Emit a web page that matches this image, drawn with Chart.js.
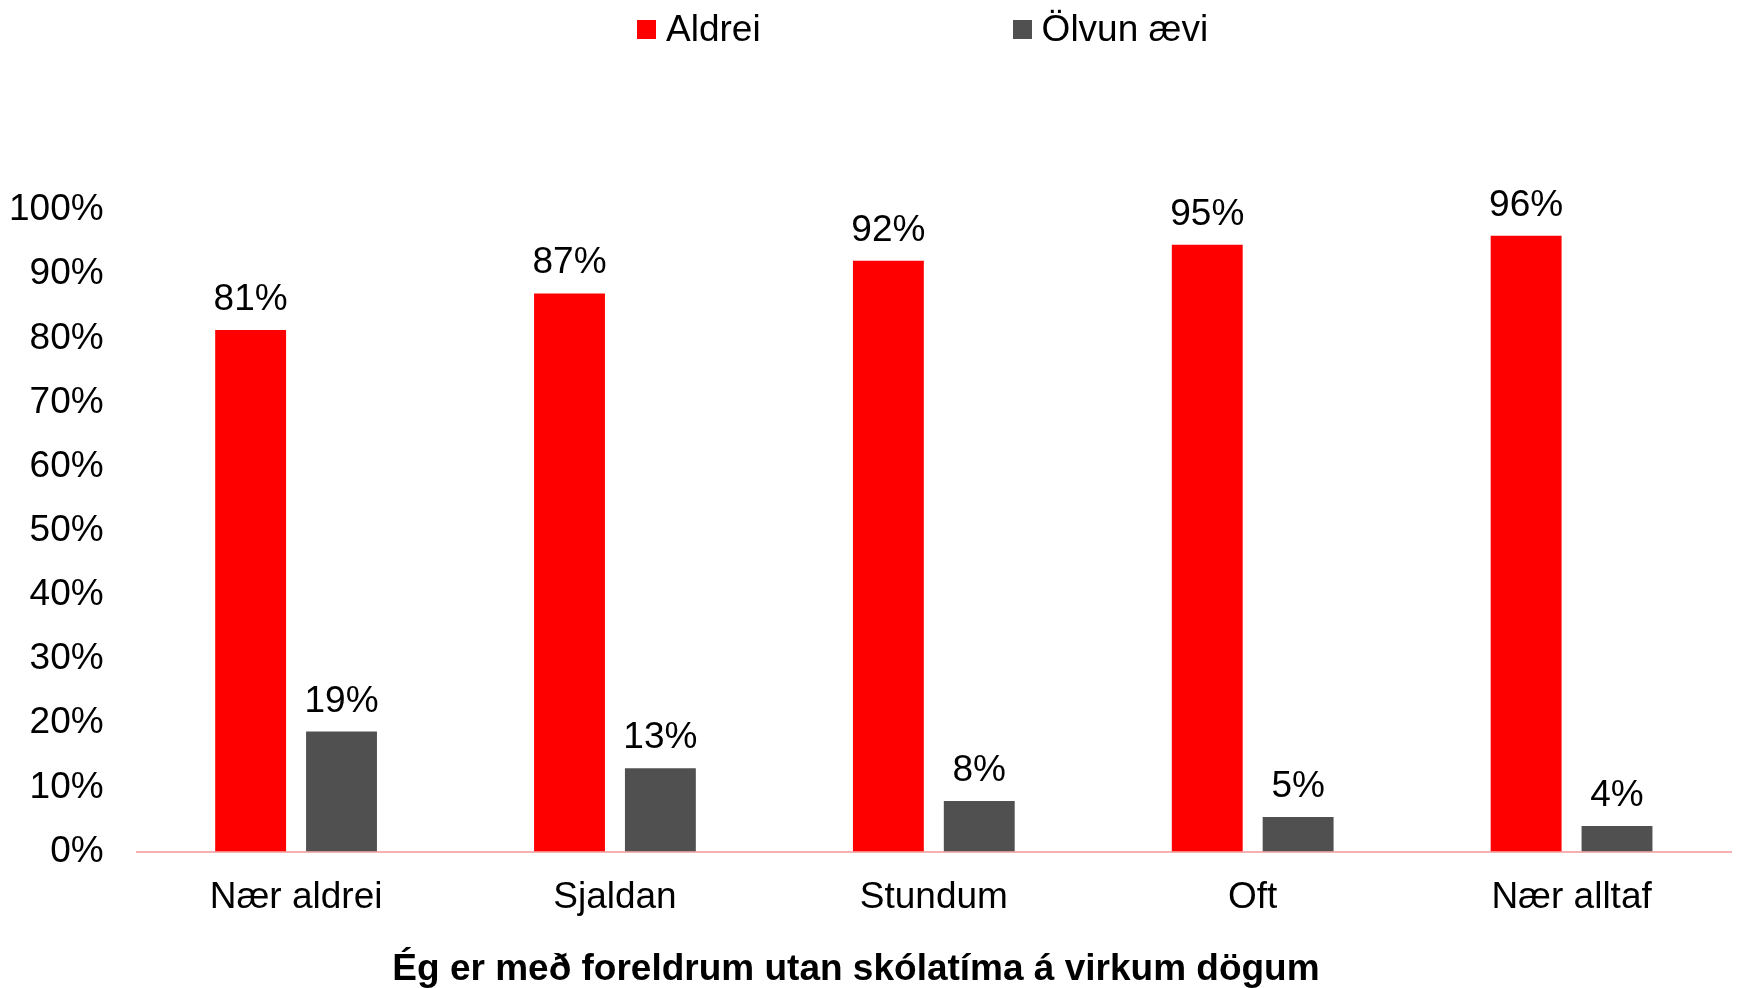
<!DOCTYPE html>
<html>
<head>
<meta charset="utf-8">
<script src="https://cdn.jsdelivr.net/npm/chart.js@4.4.0/dist/chart.umd.min.js"></script>
<style>
  html, body { margin: 0; padding: 0; background: #fff; }
  #wrap { position: relative; width: 1738px; height: 988px; }
  #legend {
    position: absolute; top: 8px; left: 637px;
    display: flex; gap: 252px; align-items: center;
    font-family: "Liberation Sans", Arial, sans-serif; font-size: 37px; color: #000;
  }
  #legend .item { display: flex; align-items: center; }
  #legend .box { width: 19px; height: 19px; margin-right: 10px; }
  #axisTitle {
    position: absolute; left: 0; width: 1712px; top: 946px;
    text-align: center; line-height: 44px;
    font-family: "Liberation Sans", Arial, sans-serif; font-size: 37px; font-weight: bold; color: #000;
  }
</style>
</head>
<body>
<div id="wrap">
  <div id="legend"></div>
  <canvas id="chart"></canvas>
  <div id="axisTitle"></div>
</div>
<script>
// data
const categories = ["Nær aldrei", "Sjaldan", "Stundum", "Oft", "Nær alltaf"];
const seriesNames = ["Aldrei", "Ölvun ævi"];
const aldrei = [81.3, 87.0, 92.1, 94.6, 96.0];
const olvunAevi = [18.7, 13.0, 7.9, 5.4, 4.0];
const yTicks = [0, 10, 20, 30, 40, 50, 60, 70, 80, 90, 100];
const axisTitle = "Ég er með foreldrum utan skólatíma á virkum dögum";

const colors = ["#FF0000", "#505050"];
const fontFamily = '"Liberation Sans", Arial, sans-serif';

// legend as html, kept spread out like the original
const legendEl = document.getElementById("legend");
seriesNames.forEach((name, i) => {
    const item = document.createElement("div");
    item.className = "item";
    const box = document.createElement("span");
    box.className = "box";
    box.style.background = colors[i];
    item.appendChild(box);
    item.appendChild(document.createTextNode(name));
    legendEl.appendChild(item);
});

// the axis title sits left of the plot centre in the original, so it's html too
document.getElementById("axisTitle").textContent = axisTitle;

// value labels above the bars
const barLabels = {
    id: "barLabels",
    afterDatasetsDraw(chart) {
        const ctx = chart.ctx;
        ctx.save();
        ctx.font = "37px " + fontFamily;
        ctx.fillStyle = "#000";
        ctx.textAlign = "center";
        ctx.textBaseline = "alphabetic";
        chart.data.datasets.forEach((ds, i) => {
            chart.getDatasetMeta(i).data.forEach((bar, j) => {
                ctx.fillText(Math.round(ds.data[j]) + "%", bar.x, bar.y - 20);
            });
        });
        ctx.restore();
    }
};

new Chart(document.getElementById("chart"), {
    type: "bar",
    data: {
        labels: categories,
        datasets: [
            { label: seriesNames[0], data: aldrei, backgroundColor: colors[0] },
            { label: seriesNames[1], data: olvunAevi, backgroundColor: colors[1] },
        ],
    },
    options: {
        responsive: true,
        maintainAspectRatio: false,
        animation: false,
        categoryPercentage: 0.57,
        barPercentage: 0.78,
        layout: { padding: { top: 210, left: 9, right: 7, bottom: 44 } },
        plugins: {
            legend: { display: false },
            tooltip: { enabled: false },
        },
        scales: {
            x: {
                grid: { display: false, drawTicks: false },
                border: { display: true, color: "#F5B0B0", width: 2 },
                ticks: {
                    color: "#000",
                    padding: 24,
                    font: { family: fontFamily, size: 37 },
                },
            },
            y: {
                min: 0,
                max: 100,
                grid: { display: false, drawTicks: false },
                border: { display: false },
                afterBuildTicks: (axis) => {
                    axis.ticks = yTicks.map(v => ({ value: v }));
                },
                // padding gets counted twice in the width, drop the extra
                afterFit: (axis) => {
                    axis.width -= axis.options.ticks.padding;
                },
                ticks: {
                    color: "#000",
                    padding: 33,
                    font: { family: fontFamily, size: 37 },
                    callback: (v) => v + "%",
                },
            },
        },
    },
    plugins: [barLabels],
});
</script>
</body>
</html>
